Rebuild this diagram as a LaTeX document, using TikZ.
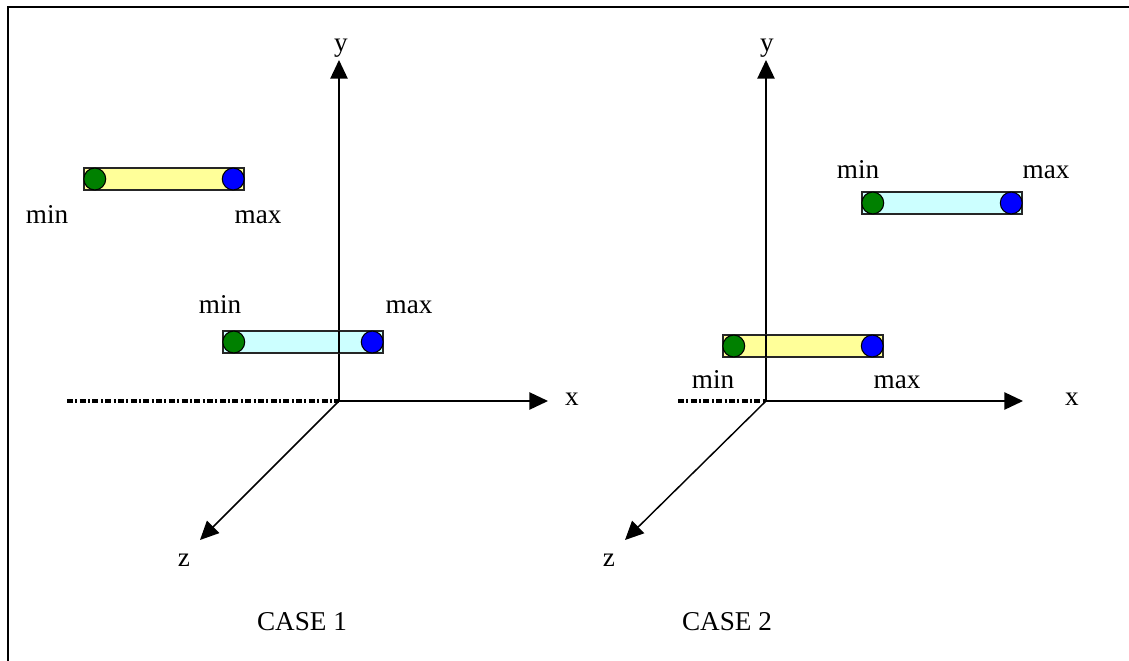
\documentclass[tikz,border=0pt]{standalone}
\usepackage{fontspec}
\setmainfont{Liberation Serif}
\usetikzlibrary{arrows.meta,positioning}

\definecolor{barYellow}{HTML}{FFFF99}
\definecolor{barCyan}{HTML}{CCFFFF}
\definecolor{dotGreen}{HTML}{008000}
\definecolor{dotBlue}{HTML}{0000FF}

\begin{document}
\begin{tikzpicture}[
    x=0.0265cm, y=-0.0265cm,
    font=\fontsize{20.5}{24}\selectfont,
    axis/.style={draw=black, line width=1.1pt, -{Triangle[length=14pt, width=13pt]}},
    hidden/.style={draw=black, line width=2.4pt, dash pattern=on 4.5pt off 1.8pt on 1.5pt off 1.8pt},
    bar/.style={draw=black!85, line width=1.2pt, minimum width=120.5pt, minimum height=16.5pt, inner sep=0pt},
    endpt/.style={circle, draw=black, line width=0.8pt, minimum size=16.5pt, inner sep=0pt},
    lbl/.style={inner sep=0pt, text height=1.5ex, text depth=0.2ex, yshift=-3pt}
]
    % page and frame (open on the right and bottom)
    \useasboundingbox (0,0) rectangle (1129,661);
    \draw[line width=1.4pt] (8,661) -- (8,7) -- (1129,7);

    % ==================== CASE 1 ====================
    \coordinate (o1) at (339,401);
    \coordinate (y1) at (339,60);
    \coordinate (x1) at (548,401);
    \coordinate (z1) at (200,540);
    \coordinate (h1) at (67,401);
    \draw[hidden] (h1) -- (o1);
    \draw[axis] (o1) -- (y1);
    \draw[axis] (o1) -- (x1);
    \draw[axis] (o1) -- (z1);
    \node[lbl] (ylab1) at (341,44) {y};
    \node[lbl] (xlab1) at (572,398) {x};
    \node[lbl] (zlab1) at (184,559) {z};

    % interval left of the y axis
    \node[bar, fill=barYellow] (barA) at (164,179) {};
    \node[endpt, fill=dotGreen, anchor=west] (minA) at (barA.west) {};
    \node[endpt, fill=dotBlue, anchor=east] (maxA) at (barA.east) {};
    \node[lbl] (minAlab) at (47,216) {min};
    \node[lbl] (maxAlab) at (258,216) {max};

    % interval straddling the y axis
    \node[bar, fill=barCyan] (barB) at (303,342) {};
    \node[endpt, fill=dotGreen, anchor=west] (minB) at (barB.west) {};
    \node[endpt, fill=dotBlue, anchor=east] (maxB) at (barB.east) {};
    \draw[line width=1.1pt] (339,331) -- (339,353);
    \node[lbl] (minBlab) at (220,306) {min};
    \node[lbl] (maxBlab) at (409,306) {max};

    \node[lbl] (case1) at (302,623) {CASE 1};

    % ==================== CASE 2 ====================
    \coordinate (o2) at (766,401);
    \coordinate (y2) at (766,60);
    \coordinate (x2) at (1023,401);
    \coordinate (z2) at (625,540);
    \coordinate (h2) at (678,401);
    \draw[hidden] (h2) -- (o2);
    \draw[axis] (o2) -- (y2);
    \draw[axis] (o2) -- (x2);
    \draw[axis] (o2) -- (z2);
    \node[lbl] (ylab2) at (767,44) {y};
    \node[lbl] (xlab2) at (1072,398) {x};
    \node[lbl] (zlab2) at (609,559) {z};

    % interval right of the y axis
    \node[bar, fill=barCyan] (barC) at (942,203) {};
    \node[endpt, fill=dotGreen, anchor=west] (minC) at (barC.west) {};
    \node[endpt, fill=dotBlue, anchor=east] (maxC) at (barC.east) {};
    \node[lbl] (minClab) at (858,171) {min};
    \node[lbl] (maxClab) at (1046,171) {max};

    % interval straddling the y axis
    \node[bar, fill=barYellow] (barD) at (803,346) {};
    \node[endpt, fill=dotGreen, anchor=west] (minD) at (barD.west) {};
    \node[endpt, fill=dotBlue, anchor=east] (maxD) at (barD.east) {};
    \draw[line width=1.1pt] (766,335) -- (766,357);
    \node[lbl] (minDlab) at (713,381) {min};
    \node[lbl] (maxDlab) at (897,381) {max};

    \node[lbl] (case2) at (727,623) {CASE 2};
\end{tikzpicture}
\end{document}
